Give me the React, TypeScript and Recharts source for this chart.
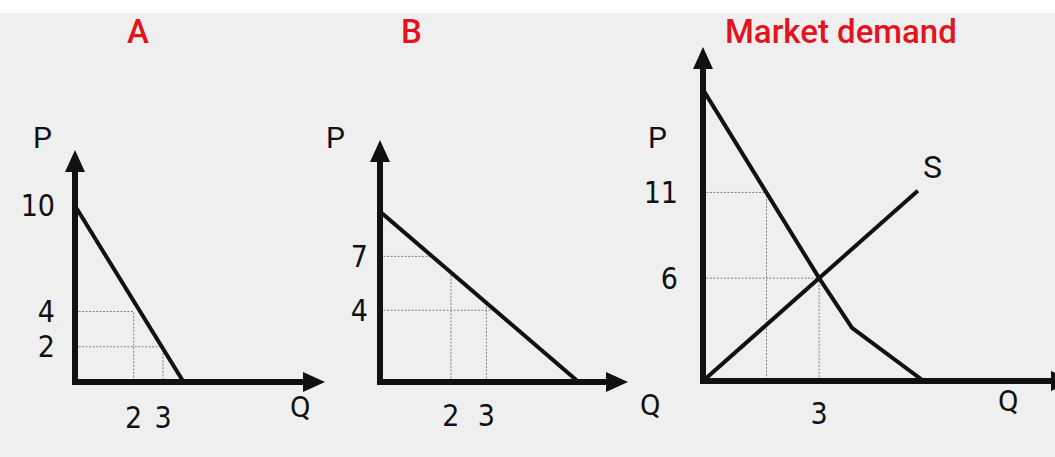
import { LineChart, Line, XAxis, YAxis } from "recharts";

const NUM_FONT =
  '"Liberation Sans Narrow", "Arial Narrow", "DejaVu Sans Condensed", "Liberation Sans", sans-serif';
const TXT_FONT = 'Roboto, "Liberation Sans", Arial, sans-serif';
const RED = "#e3141d";
const INK = "#111111";
const GUIDE = "#808080";

// --- A: individual demand ---
const demandA = [
  { q: 0, p: 10 },
  { q: 3.7, p: 0 },
];
const guidesA = [
  [
    { q: 0, p: 4 },
    { q: 2, p: 4 },
    { q: 2, p: 0 },
  ],
  [
    { q: 0, p: 2 },
    { q: 3, p: 2 },
    { q: 3, p: 0 },
  ],
];
const priceTicksA = [2, 4, 10];
const qtyTicksA = [2, 3];

// --- B: individual demand ---
const demandB = [
  { q: 0, p: 9.5 },
  { q: 5.6, p: 0 },
];
const guidesB = [
  [
    { q: 0, p: 7 },
    { q: 1.5, p: 7 },
  ],
  [
    { q: 2, p: 0 },
    { q: 2, p: 6.1 },
  ],
  [
    { q: 0, p: 4 },
    { q: 3.25, p: 4 },
  ],
  [
    { q: 3, p: 0 },
    { q: 3, p: 4.4 },
  ],
];
const priceTicksB = [4, 7];
const qtyTicksB = [2, 3];

// --- Market ---
const demandM = [
  { q: 0, p: 17 },
  { q: 3, p: 6 },
  { q: 3.85, p: 3.1 },
  { q: 5.7, p: 0 },
];
const supplyM = [
  { q: 0, p: 0 },
  { q: 5.55, p: 11.1 },
];
const guidesM = [
  [
    { q: 0, p: 11 },
    { q: 1.64, p: 11 },
    { q: 1.64, p: 0 },
  ],
  [
    { q: 0, p: 6 },
    { q: 3, p: 6 },
    { q: 3, p: 0 },
  ],
];
const priceTicksM = [6, 11];
const qtyTicksM = [3];

const axisLine = {
  stroke: INK,
  strokeWidth: 6,
  strokeLinecap: "square" as const,
};
const yAxisLine = { ...axisLine, markerStart: "url(#axisArrow)" };
const xAxisLine = { ...axisLine, markerEnd: "url(#axisArrow)" };

type Pt = { q: number; p: number };

interface PanelProps {
  left: number;
  width: number;
  margin: { top: number; right: number; bottom: number; left: number };
  xMax: number;
  yMax: number;
  priceTicks: number[];
  qtyTicks: number[];
  yTickMargin: number;
  xTickMargin: number;
  guides: Pt[][];
  curves: Pt[][];
}

function Panel(props: PanelProps) {
  const tickStyle = { fill: INK, fontSize: 30, fontFamily: NUM_FONT };
  return (
    <div style={{ position: "absolute", left: props.left, top: 0 }}>
      <LineChart width={props.width} height={457} margin={props.margin}>
        <XAxis
          type="number"
          dataKey="q"
          domain={[0, props.xMax]}
          ticks={props.qtyTicks}
          interval={0}
          allowDataOverflow
          height={60}
          tickSize={0}
          tickMargin={props.xTickMargin}
          tick={tickStyle}
          axisLine={xAxisLine}
        />
        <YAxis
          type="number"
          dataKey="p"
          domain={[0, props.yMax]}
          ticks={props.priceTicks}
          interval={0}
          allowDataOverflow
          width={60}
          tickSize={0}
          tickMargin={props.yTickMargin}
          tick={tickStyle}
          axisLine={yAxisLine}
        />
        {props.guides.map((g, i) => (
          <Line
            key={"g" + i}
            data={g}
            dataKey="p"
            type="linear"
            stroke={GUIDE}
            strokeWidth={1}
            strokeDasharray="2 1.5"
            dot={false}
            activeDot={false}
            isAnimationActive={false}
          />
        ))}
        {props.curves.map((c, i) => (
          <Line
            key={"c" + i}
            data={c}
            dataKey="p"
            type="linear"
            stroke={INK}
            strokeWidth={4}
            strokeLinejoin="round"
            dot={false}
            activeDot={false}
            isAnimationActive={false}
          />
        ))}
      </LineChart>
    </div>
  );
}

function Txt({
  x,
  y,
  size,
  weight = 400,
  color = INK,
  children,
}: {
  x: number;
  y: number;
  size: number;
  weight?: number;
  color?: string;
  children: string;
}) {
  return (
    <div
      style={{
        position: "absolute",
        left: x,
        top: y,
        fontSize: size,
        lineHeight: `${size}px`,
        fontFamily: TXT_FONT,
        fontWeight: weight,
        color,
        whiteSpace: "nowrap",
      }}
    >
      {children}
    </div>
  );
}

export default function App() {
  return (
    <div
      style={{
        position: "fixed",
        left: 0,
        top: 0,
        width: 1055,
        height: 457,
        overflow: "hidden",
        background: "#efefef",
      }}
    >
      <div style={{ position: "absolute", left: 0, top: 0, width: 1055, height: 13, background: "#ffffff" }} />
      <svg width={0} height={0} style={{ position: "absolute" }}>
        <defs>
          <marker
            id="axisArrow"
            viewBox="0 0 22 20"
            refX={12}
            refY={10}
            markerWidth={22}
            markerHeight={20}
            markerUnits="userSpaceOnUse"
            orient="auto-start-reverse"
          >
            <path d="M0,0 L22,10 L0,20 Z" fill={INK} />
          </marker>
        </defs>
      </svg>

      <Panel
        left={0}
        width={330}
        margin={{ top: 160, right: 15, bottom: 15, left: 15 }}
        xMax={8.18}
        yMax={12.6}
        priceTicks={priceTicksA}
        qtyTicks={qtyTicksA}
        yTickMargin={20}
        xTickMargin={25}
        guides={guidesA}
        curves={[demandA]}
      />
      <Panel
        left={300}
        width={330}
        margin={{ top: 150, right: 12, bottom: 15, left: 20 }}
        xMax={6.71}
        yMax={12.93}
        priceTicks={priceTicksB}
        qtyTicks={qtyTicksB}
        yTickMargin={12}
        xTickMargin={23}
        guides={guidesB}
        curves={[demandB]}
      />
      <Panel
        left={620}
        width={450}
        margin={{ top: 57, right: 7, bottom: 16, left: 23 }}
        xMax={9.3}
        yMax={18.9}
        priceTicks={priceTicksM}
        qtyTicks={qtyTicksM}
        yTickMargin={25}
        xTickMargin={22}
        guides={guidesM}
        curves={[demandM, supplyM]}
      />

      <Txt x={127} y={15} size={33} weight={500} color={RED}>A</Txt>
      <Txt x={401} y={15} size={33} weight={500} color={RED}>B</Txt>
      <Txt x={725} y={15} size={33} weight={500} color={RED}>Market demand</Txt>

      <Txt x={33} y={123} size={30}>P</Txt>
      <Txt x={326} y={123} size={30}>P</Txt>
      <Txt x={648} y={123} size={30}>P</Txt>
      <Txt x={290} y={392} size={30}>Q</Txt>
      <Txt x={640} y={390} size={30}>Q</Txt>
      <Txt x={998} y={386} size={30}>Q</Txt>
      <Txt x={923} y={151} size={32}>S</Txt>
    </div>
  );
}
